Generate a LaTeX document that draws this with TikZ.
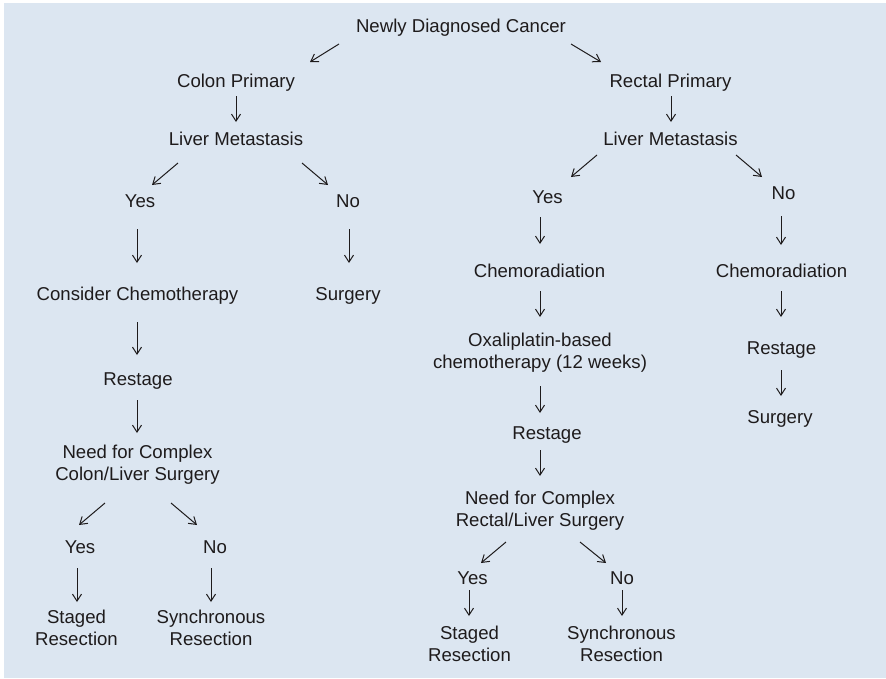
\documentclass[tikz,border=0pt]{standalone}
\usepackage{fontspec}
\setmainfont{Liberation Sans}
\usetikzlibrary{arrows.meta}

\definecolor{panel}{RGB}{220,230,241}
\definecolor{ink}{RGB}{30,27,28}

\tikzset{
  lbl/.style={font=\fontsize{18.6}{22}\selectfont, text=ink, inner sep=0pt, anchor=base, align=center},
  arr/.style={draw=ink, line width=1pt, -{Straight Barb[length=7pt,width=9pt]}}
}

\begin{document}
\begin{tikzpicture}[x=1pt,y=-1pt]
\useasboundingbox (0,0) rectangle (886,678);
\fill [panel] (4,3) rectangle (886,678);

\node [lbl] (nd) at (461,32) {Newly Diagnosed Cancer};
\node [lbl] (colon) at (236,87) {Colon Primary};
\node [lbl] (rect) at (670.5,87) {Rectal Primary};
\node [lbl] (livl) at (236,145) {Liver Metastasis};
\node [lbl] (livr) at (670.5,145) {Liver Metastasis};
\node [lbl] (yesl) at (140,207) {Yes};
\node [lbl] (nol) at (348,207) {No};
\node [lbl] (yesr) at (547.5,203) {Yes};
\node [lbl] (nor) at (783.5,199) {No};
\node [lbl] (conch) at (137.5,300) {Consider Chemotherapy};
\node [lbl] (surgl) at (348,300) {Surgery};
\node [lbl] (chemr) at (539.5,277) {Chemoradiation};
\node [lbl] (chemn) at (781.5,277) {Chemoradiation};
\node [lbl] (restl) at (138,385) {Restage};
\node [lbl] (oxa) at (540,368) {Oxaliplatin-based\\chemotherapy (12 weeks)};
\node [lbl] (restn) at (781.5,354) {Restage};
\node [lbl] (surgn) at (780,423) {Surgery};
\node [lbl] (restr) at (547,439) {Restage};
\node [lbl] (needl) at (137.5,480) {Need for Complex\\Colon/Liver Surgery};
\node [lbl] (needr) at (540,526) {Need for Complex\\Rectal/Liver Surgery};
\node [lbl] (yesll) at (80,553) {Yes};
\node [lbl] (noll) at (215,553) {No};
\node [lbl] (yesrr) at (472.5,584) {Yes};
\node [lbl] (norr) at (622,584) {No};
\node [lbl] (stagl) at (76.5,645) {Staged\\Resection};
\node [lbl] (syncl) at (211,645) {Synchronous\\Resection};
\node [lbl] (stagr) at (469.5,661) {Staged\\Resection};
\node [lbl] (syncr) at (621.5,661) {Synchronous\\Resection};

% top split
\draw [arr] ([shift={(-122,12)}]nd.base) -- ([shift={(74,-25)}]colon.base);
\draw [arr] ([shift={(110,12)}]nd.base) -- ([shift={(-69.5,-25)}]rect.base);
\draw [arr] ([shift={(0,9)}]colon.base) -- ([shift={(0,-23)}]livl.base);
\draw [arr] ([shift={(0.5,9)}]rect.base) -- ([shift={(0.5,-23)}]livr.base);

% colon side
\draw [arr] ([shift={(-58,18)}]livl.base) -- ([shift={(12,-22)}]yesl.base);
\draw [arr] ([shift={(66,18)}]livl.base) -- ([shift={(-20,-22)}]nol.base);
\draw [arr] ([shift={(-3,22)}]yesl.base) -- ([shift={(-0.5,-37)}]conch.base);
\draw [arr] ([shift={(1,22)}]nol.base) -- ([shift={(1,-37)}]surgl.base);
\draw [arr] ([shift={(-0.5,22)}]conch.base) -- ([shift={(-1,-30)}]restl.base);
\draw [arr] ([shift={(-1,15)}]restl.base) -- ([shift={(-0.5,-47)}]needl.base);
\draw [arr] ([shift={(-32.5,23)}]needl.base) -- ([shift={(-1,-28)}]yesll.base);
\draw [arr] ([shift={(33.5,23)}]needl.base) -- ([shift={(-18,-28)}]noll.base);
\draw [arr] ([shift={(-3,15)}]yesll.base) -- ([shift={(0.5,-43)}]stagl.base);
\draw [arr] ([shift={(-4,15)}]noll.base) -- ([shift={(0,-43)}]syncl.base);

% rectal side
\draw [arr] ([shift={(-73.5,10)}]livr.base) -- ([shift={(23.5,-26)}]yesr.base);
\draw [arr] ([shift={(65.5,10)}]livr.base) -- ([shift={(-21.5,-22)}]nor.base);
\draw [arr] ([shift={(-7.5,14)}]yesr.base) -- ([shift={(0.5,-33)}]chemr.base);
\draw [arr] ([shift={(-2.5,17)}]nor.base) -- ([shift={(-0.5,-32)}]chemn.base);
\draw [arr] ([shift={(0.5,14)}]chemr.base) -- ([shift={(0,-51)}]oxa.base);
\draw [arr] ([shift={(-0.5,14)}]chemn.base) -- ([shift={(-0.5,-37)}]restn.base);
\draw [arr] ([shift={(0,18)}]oxa.base) -- ([shift={(-7,-26)}]restr.base);
\draw [arr] ([shift={(-0.5,16)}]restn.base) -- ([shift={(1,-27)}]surgn.base);
\draw [arr] ([shift={(-7,11)}]restr.base) -- ([shift={(0,-50)}]needr.base);
\draw [arr] ([shift={(-34,16)}]needr.base) -- ([shift={(8.5,-21)}]yesrr.base);
\draw [arr] ([shift={(40,16)}]needr.base) -- ([shift={(-16,-21)}]norr.base);
\draw [arr] ([shift={(-3.5,6)}]yesrr.base) -- ([shift={(-0.5,-45)}]stagr.base);
\draw [arr] ([shift={(0,6)}]norr.base) -- ([shift={(0.5,-45)}]syncr.base);
\end{tikzpicture}
\end{document}
